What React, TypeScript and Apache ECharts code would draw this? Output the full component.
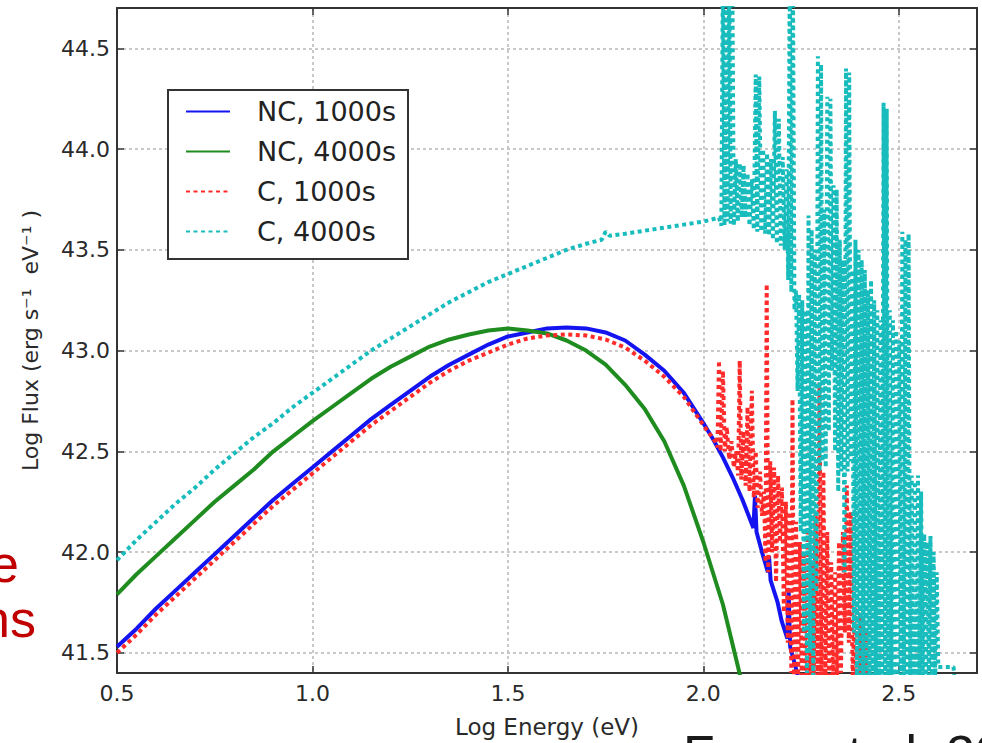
import React, { useEffect, useRef } from "react";
import * as echarts from "echarts";

const xTicks = [0.5, 1.0, 1.5, 2.0, 2.5];
const yTicks = [41.5, 42.0, 42.5, 43.0, 43.5, 44.0, 44.5];
const seriesNames = ["NC, 1000s", "NC, 4000s", "C, 1000s", "C, 4000s"];
const xTitle = "Log Energy (eV)";
const yTitle = "Log Flux (erg s\u207B\u00B9  eV\u207B\u00B9 )";

// NC, 1000s  [log E, log F]
const nc1000 = [
  [0.5, 41.53], [0.55, 41.62], [0.6, 41.72], [0.65, 41.81], [0.7, 41.9], [0.75, 41.99],
  [0.8, 42.08], [0.85, 42.17], [0.9, 42.26], [0.95, 42.34], [1.0, 42.42], [1.05, 42.5],
  [1.1, 42.58], [1.15, 42.66], [1.2, 42.73], [1.25, 42.8], [1.3, 42.87], [1.35, 42.93],
  [1.4, 42.98], [1.45, 43.03], [1.5, 43.07], [1.55, 43.09], [1.6, 43.11], [1.65, 43.115],
  [1.7, 43.11], [1.75, 43.09], [1.8, 43.05], [1.85, 42.98], [1.9, 42.9], [1.95, 42.79],
  [2.0, 42.64], [2.025, 42.56], [2.05, 42.47], [2.075, 42.37], [2.1, 42.26], [2.128, 42.12],
  [2.132, 42.28], [2.136, 42.1], [2.15, 42.0], [2.165, 41.9], [2.168, 41.98], [2.172, 41.86],
  [2.19, 41.75], [2.2, 41.66], [2.215, 41.57], [2.218, 41.82], [2.222, 41.53], [2.24, 41.4],
  [2.25, 41.3],
];

// NC, 4000s
const nc4000 = [
  [0.5, 41.79], [0.55, 41.89], [0.6, 41.98], [0.65, 42.07], [0.7, 42.16], [0.75, 42.25],
  [0.8, 42.33], [0.85, 42.41], [0.9, 42.5], [0.95, 42.575], [1.0, 42.65], [1.05, 42.72],
  [1.1, 42.79], [1.15, 42.86], [1.2, 42.92], [1.25, 42.97], [1.3, 43.02], [1.35, 43.055],
  [1.4, 43.08], [1.45, 43.1], [1.5, 43.11], [1.55, 43.1], [1.6, 43.085], [1.65, 43.05],
  [1.7, 43.0], [1.75, 42.93], [1.8, 42.83], [1.85, 42.71], [1.9, 42.55], [1.95, 42.33],
  [2.0, 42.05], [2.05, 41.74], [2.09, 41.42], [2.1, 41.33],
];

// C, 1000s
const c1000 = [
  [0.5, 41.5], [0.55, 41.59], [0.6, 41.69], [0.65, 41.78], [0.7, 41.87], [0.75, 41.96],
  [0.8, 42.05], [0.85, 42.14], [0.9, 42.23], [0.95, 42.31], [1.0, 42.39], [1.05, 42.47],
  [1.1, 42.55], [1.15, 42.63], [1.2, 42.7], [1.25, 42.77], [1.3, 42.84], [1.35, 42.9],
  [1.4, 42.95], [1.45, 42.99], [1.5, 43.03], [1.55, 43.06], [1.6, 43.075], [1.65, 43.08],
  [1.7, 43.075], [1.75, 43.055], [1.8, 43.015], [1.85, 42.95], [1.9, 42.87], [1.95, 42.77],
  [2.0, 42.63], [2.03, 42.55], [2.036, 42.52], [2.04, 42.95], [2.044, 42.5], [2.05, 42.9],
  [2.055, 42.5], [2.06, 42.62], [2.066, 42.46], [2.072, 42.55], [2.078, 42.42], [2.084, 42.5],
  [2.089, 42.38], [2.093, 42.95], [2.097, 42.36], [2.103, 42.6], [2.108, 42.33], [2.113, 42.72],
  [2.118, 42.3], [2.124, 42.8], [2.129, 42.27], [2.134, 42.5], [2.139, 42.22], [2.145, 42.4],
  [2.15, 42.18], [2.155, 42.3], [2.159, 41.95], [2.162, 43.33], [2.166, 41.9], [2.171, 42.45],
  [2.176, 42.0], [2.181, 42.42], [2.186, 41.85], [2.191, 42.38], [2.196, 42.05], [2.201, 42.32],
  [2.206, 41.7], [2.211, 42.25], [2.216, 41.55], [2.221, 42.2], [2.225, 41.4], [2.228, 42.76],
  [2.232, 41.35], [2.237, 42.15], [2.242, 41.35], [2.247, 42.05], [2.252, 41.35], [2.257, 41.98],
  [2.262, 41.35], [2.267, 42.1], [2.272, 41.35], [2.277, 41.95], [2.282, 41.35], [2.287, 42.2],
  [2.292, 41.35], [2.297, 42.84], [2.302, 41.35], [2.307, 42.4], [2.312, 41.35], [2.317, 42.1],
  [2.322, 41.35], [2.327, 41.95], [2.332, 41.35], [2.337, 41.9], [2.342, 41.35], [2.347, 42.05],
  [2.352, 41.4], [2.357, 42.1], [2.362, 41.6], [2.367, 42.33], [2.372, 41.55], [2.377, 42.2],
  [2.382, 41.35], [2.387, 41.75], [2.392, 41.35], [2.397, 41.7], [2.402, 41.35], [2.407, 41.68],
  [2.412, 41.35], [2.417, 41.6], [2.422, 41.3],
];

// C, 4000s
const c4000 = [
  [0.5, 41.96], [0.55, 42.06], [0.6, 42.15], [0.65, 42.24], [0.7, 42.32], [0.75, 42.41],
  [0.8, 42.49], [0.85, 42.57], [0.9, 42.64], [0.95, 42.72], [1.0, 42.79], [1.05, 42.86],
  [1.1, 42.93], [1.15, 43.0], [1.2, 43.06], [1.25, 43.12], [1.3, 43.18], [1.35, 43.24],
  [1.4, 43.29], [1.45, 43.34], [1.5, 43.38], [1.55, 43.42], [1.6, 43.46], [1.65, 43.5],
  [1.7, 43.53], [1.74, 43.55], [1.75, 43.59], [1.76, 43.57], [1.8, 43.58], [1.85, 43.595],
  [1.9, 43.61], [1.95, 43.625], [2.0, 43.64], [2.04, 43.66],
  [2.046, 43.62], [2.05, 44.9], [2.054, 43.62], [2.058, 44.9], [2.062, 43.64], [2.066, 44.9],
  [2.07, 43.63], [2.074, 44.9], [2.078, 43.62], [2.083, 43.95], [2.088, 43.64], [2.093, 43.93],
  [2.098, 43.66], [2.103, 43.92], [2.108, 43.66], [2.113, 43.88], [2.118, 43.62], [2.124, 43.85],
  [2.129, 43.6], [2.134, 44.37], [2.138, 43.59], [2.143, 44.36], [2.148, 43.59], [2.153, 44.0],
  [2.158, 43.58], [2.163, 43.98], [2.168, 43.57], [2.173, 43.95], [2.178, 43.55], [2.183, 44.19],
  [2.188, 43.53], [2.193, 44.15], [2.198, 43.52], [2.203, 43.96], [2.208, 43.5], [2.213, 43.9],
  [2.217, 43.35], [2.221, 44.9], [2.225, 43.29], [2.229, 44.9], [2.233, 43.2], [2.237, 43.3],
  [2.241, 42.8], [2.245, 43.28], [2.249, 42.1], [2.253, 43.25], [2.257, 41.6], [2.261, 43.2],
  [2.265, 41.4], [2.269, 43.67], [2.273, 41.5], [2.277, 43.6], [2.281, 41.35], [2.285, 43.5],
  [2.289, 41.8], [2.293, 44.46], [2.297, 42.4], [2.301, 44.42], [2.305, 42.45], [2.309, 43.7],
  [2.313, 42.42], [2.317, 44.26], [2.321, 42.6], [2.325, 44.25], [2.329, 42.9], [2.333, 43.82],
  [2.337, 42.5], [2.341, 43.8], [2.345, 42.3], [2.349, 43.55], [2.353, 42.4], [2.357, 43.45],
  [2.361, 41.9], [2.365, 44.4], [2.369, 42.4], [2.373, 44.38], [2.377, 42.45], [2.381, 43.4],
  [2.385, 41.6], [2.389, 43.55], [2.393, 41.35], [2.397, 43.5], [2.401, 41.35], [2.405, 43.45],
  [2.409, 41.35], [2.413, 43.4], [2.417, 41.35], [2.421, 43.3], [2.425, 41.35], [2.429, 43.35],
  [2.433, 41.35], [2.437, 43.25], [2.441, 41.35], [2.445, 43.2], [2.449, 41.35], [2.453, 43.15],
  [2.457, 41.35], [2.461, 44.23], [2.465, 41.35], [2.469, 44.2], [2.473, 41.35], [2.477, 43.2],
  [2.481, 41.35], [2.485, 43.15], [2.489, 41.35], [2.493, 43.1], [2.497, 41.35], [2.501, 43.05],
  [2.505, 41.35], [2.509, 43.59], [2.513, 41.35], [2.517, 43.55], [2.521, 41.35], [2.525, 43.58],
  [2.529, 41.35], [2.533, 42.38], [2.537, 41.35], [2.541, 42.35], [2.545, 41.35], [2.549, 42.38],
  [2.553, 41.35], [2.557, 42.3], [2.561, 41.35], [2.565, 42.09], [2.569, 41.35], [2.573, 42.05],
  [2.577, 41.35], [2.581, 42.08], [2.585, 41.35], [2.589, 42.0], [2.593, 41.35], [2.597, 41.9],
  [2.601, 41.43], [2.62, 41.43], [2.64, 41.43], [2.645, 41.3],
];

const seriesData = [nc1000, nc4000, c1000, c4000];
const seriesColors = ["#1414f0", "#1e8c1e", "#ff2a2a", "#18bcbc"];
const seriesDashed = [false, false, true, true];

const FONT = "DejaVu Sans";
const AXIS_COLOR = "#333333";

export default function App() {
  const ref = useRef<HTMLDivElement>(null);

  useEffect(() => {
    if (!ref.current) return;
    const chart = echarts.init(ref.current, null, { renderer: "svg" });

    const tickLabel = {
      fontFamily: FONT,
      fontSize: 22,
      color: "#2a2a2a",
      formatter: (v: number) => v.toFixed(1),
    };
    const gridLine = {
      show: true,
      lineStyle: { type: [3, 3], color: "#b8b8b8", width: 1.5 },
    };
    const axisLine = { show: true, onZero: false, lineStyle: { color: AXIS_COLOR, width: 2 } };
    const tick = (values: number[]) => ({
      show: true,
      inside: true,
      length: 7,
      customValues: values,
      lineStyle: { color: AXIS_COLOR, width: 1.5 },
    });

    chart.setOption({
      animation: false,
      backgroundColor: "#ffffff",
      grid: { left: 117, right: 5, top: 8, bottom: 70 },
      xAxis: [
        {
          type: "value",
          min: 0.5,
          max: 2.7,
          position: "bottom",
          axisLine,
          axisTick: tick(xTicks),
          axisLabel: { ...tickLabel, margin: 9, customValues: xTicks },
          splitLine: gridLine,
          name: xTitle,
          nameLocation: "middle",
          nameGap: 42,
          nameTextStyle: { fontFamily: FONT, fontSize: 23, color: "#2a2a2a" },
        },
        {
          type: "value",
          min: 0.5,
          max: 2.7,
          position: "top",
          axisLine,
          axisTick: tick(xTicks),
          axisLabel: { show: false },
          splitLine: { show: false },
        },
      ],
      yAxis: [
        {
          type: "value",
          min: 41.4,
          max: 44.7,
          position: "left",
          axisLine,
          axisTick: tick(yTicks),
          axisLabel: { ...tickLabel, margin: 7, customValues: yTicks },
          splitLine: gridLine,
          name: yTitle,
          nameLocation: "middle",
          nameGap: 76,
          nameTextStyle: { fontFamily: FONT, fontSize: 22, color: "#2a2a2a" },
        },
        {
          type: "value",
          min: 41.4,
          max: 44.7,
          position: "right",
          axisLine,
          axisTick: tick(yTicks),
          axisLabel: { show: false },
          splitLine: { show: false },
        },
      ],
      legend: {
        orient: "vertical",
        left: 168,
        top: 90,
        backgroundColor: "#ffffff",
        borderColor: AXIS_COLOR,
        borderWidth: 2,
        borderRadius: 0,
        padding: [8, 12, 14, 17],
        itemWidth: 44,
        itemHeight: 14,
        itemGap: 13,
        itemStyle: { opacity: 0, borderWidth: 0 },
        textStyle: { fontFamily: FONT, fontSize: 27, lineHeight: 27, color: "#222222", padding: [0, 0, 0, 22] },
        data: seriesNames,
      },
      series: seriesNames.map((name, i) => ({
        name,
        type: "line",
        xAxisIndex: 0,
        yAxisIndex: 0,
        data: seriesData[i],
        symbol: "none",
        showSymbol: false,
        clip: true,
        emphasis: { disabled: true },
        lineStyle: seriesDashed[i]
          ? { color: seriesColors[i], width: 4, type: [4, 3.5], cap: "butt" }
          : { color: seriesColors[i], width: 4, type: "solid" },
        itemStyle: { color: seriesColors[i] },
      })),
      graphic: [
        {
          type: "text",
          x: 19,
          y: 564,
          style: { text: "e", font: "52px 'Liberation Sans'", fill: "#c00000", textAlign: "right", textVerticalAlign: "middle" },
        },
        {
          type: "text",
          x: 36,
          y: 619,
          style: { text: "ns", font: "52px 'Liberation Sans'", fill: "#c00000", textAlign: "right", textVerticalAlign: "middle" },
        },
        {
          type: "text",
          x: 683,
          y: 754,
          style: { text: "Fryer et al. 2010", font: "52px 'Liberation Sans'", fill: "#1a1a1a", textAlign: "left", textVerticalAlign: "middle" },
        },
      ],
    });

    return () => chart.dispose();
  }, []);

  return (
    <div
      ref={ref}
      style={{ position: "fixed", left: 0, top: 0, width: 982, height: 743, background: "#ffffff" }}
    />
  );
}
